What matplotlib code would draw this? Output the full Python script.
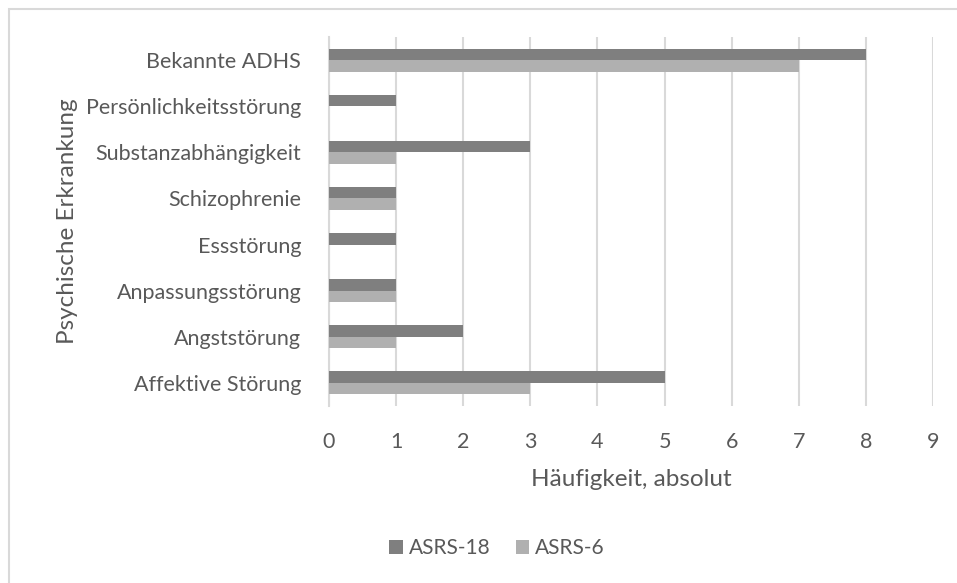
import matplotlib.pyplot as plt
import numpy as np
from matplotlib.patches import Rectangle

# Psychische Erkrankungen (von unten nach oben)
categories = ["Affektive Störung", "Angststörung", "Anpassungsstörung", "Essstörung",
              "Schizophrenie", "Substanzabhängigkeit", "Persönlichkeitsstörung",
              "Bekannte ADHS"]
asrs18 = [5, 2, 1, 1, 1, 3, 1, 8]
asrs6 = [3, 1, 1, 0, 1, 1, 0, 7]
xticks = list(range(0, 10))

text_col = "#595959"
plt.rcParams["font.family"] = ["Lato", "DejaVu Sans"]

fig = plt.figure(figsize=(9.57, 5.83), dpi=100)
ax = fig.add_axes([329 / 957, 1 - 406 / 583, (933 - 329) / 957, (406 - 37) / 583])

y = np.arange(len(categories))
h = 0.25
ax.barh(y + h / 2, asrs18, height=h, color="#7f7f7f", label="ASRS-18", zorder=3)
ax.barh(y - h / 2, asrs6, height=h, color="#b0b0b0", label="ASRS-6", zorder=3)

ax.set_xlim(0, 9)
ax.set_ylim(-0.5, len(categories) - 0.5)
ax.set_xticks(xticks)
ax.set_yticks(y)
ax.set_yticklabels(categories)
ax.tick_params(axis="both", length=0, labelsize=15.5, colors=text_col)
ax.tick_params(axis="y", pad=20)
ax.tick_params(axis="x", pad=19)
ax.grid(axis="x", color="#d9d9d9", linewidth=1.5, zorder=0)
for s in ["top", "right", "bottom"]:
    ax.spines[s].set_visible(False)
ax.spines["left"].set_color("#d9d9d9")
ax.spines["left"].set_linewidth(1.5)

ax.set_xlabel("Häufigkeit, absolut", fontsize=17.5, color=text_col, labelpad=12)
ax.set_ylabel("Psychische Erkrankung", fontsize=17.5, color=text_col, labelpad=6)

ax.legend(loc="center", bbox_to_anchor=(497 / 957, 1 - 548 / 583),
          bbox_transform=fig.transFigure, ncol=2, frameon=False, fontsize=15,
          labelcolor=text_col, handlelength=0.65, handleheight=0.65,
          handletextpad=0.3, columnspacing=1.2)

# Rahmen um die Grafik
fig.add_artist(Rectangle((9 / 957, -0.02), 1.1, 1 - 9 / 583 + 0.02,
                         transform=fig.transFigure, fill=False,
                         edgecolor="#d9d9d9", linewidth=1.5))

fig.savefig("out.png", dpi=100)
